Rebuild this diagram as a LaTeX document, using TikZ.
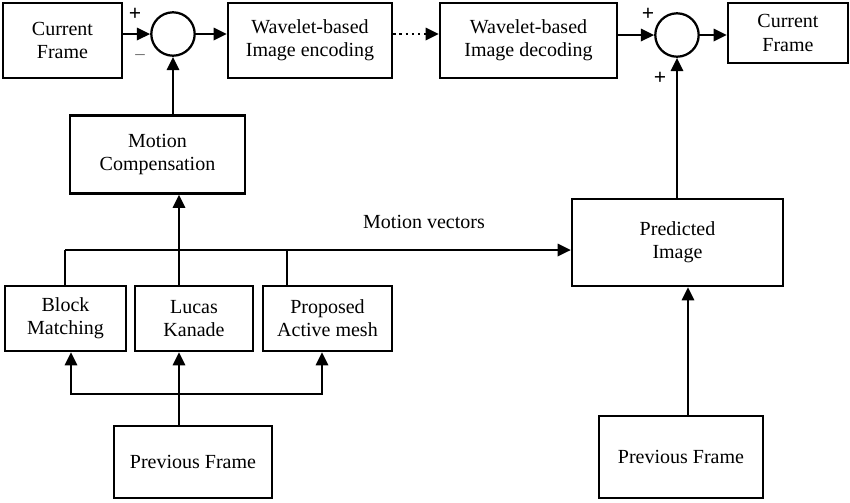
\documentclass[tikz,border=0pt]{standalone}
\usepackage{fontspec}
\setmainfont{Liberation Serif}
\usetikzlibrary{arrows.meta}

\begin{document}
\begin{tikzpicture}[x=0.53pt,y=-0.53pt,
  every node/.style={font=\fontsize{10.6}{12.3}\selectfont},
  box/.style={draw,line width=1.2pt,align=center,inner sep=0pt},
  sumnode/.style={draw,circle,line width=1.2pt,minimum size=23pt,inner sep=0pt},
  conn/.style={line width=1.3pt},
  arr/.style={conn,-{Triangle[length=7pt,width=6.5pt]}},
  sign/.style={inner sep=0pt,font=\fontsize{11.5}{12}\selectfont\bfseries}]
  \useasboundingbox (0,0) rectangle (850,502);
  % top row
  \node[box,minimum width=63.1pt,minimum height=39.8pt] (curL) at (62.5,40.5) {Current\\Frame};
  \node[sumnode] (sumA) at (173,34) {};
  \node[box,minimum width=86.9pt,minimum height=39.8pt] (enc) at (310,40.5) {Wavelet-based\\Image encoding};
  \node[box,minimum width=93.8pt,minimum height=39.8pt] (dec) at (528.5,40.5) {Wavelet-based\\Image decoding};
  \node[sumnode] (sumB) at (677,35) {};
  \node[box,minimum width=63.6pt,minimum height=31.8pt] (curR) at (788,33) {Current\\Frame};
  % motion estimation
  \node[box,minimum width=92.8pt,minimum height=41.3pt] (mc) at (157.5,154.5) {Motion\\Compensation};
  \node[box,minimum width=64.1pt,minimum height=34.5pt] (bm) at (65.5,318.5) {Block\\Matching};
  \node[box,minimum width=62.5pt,minimum height=34.5pt] (lk) at (194,318.5) {Lucas\\Kanade};
  \node[box,minimum width=68.4pt,minimum height=34.5pt] (am) at (327.5,318.5) {Proposed\\Active mesh};
  \node[box,minimum width=83.7pt,minimum height=38.2pt] (pfL) at (193,462) {Previous Frame};
  \node[box,minimum width=111.8pt,minimum height=46.1pt] (pi) at (677.5,242.5) {Predicted\\Image};
  \node[box,minimum width=86.9pt,minimum height=43.5pt] (pfR) at (681,457) {Previous Frame};
  % signs
  \node[sign] (pA) at (135,14) {+};
  \node[sign,font=\fontsize{10}{12}\selectfont,text=black!60] (mA) at (140,57) {–};
  \node[sign] (pB) at (648,14) {+};
  \node[sign] (pC) at (660,78) {+};
  \node (mv) at (424,222) {Motion vectors};
  % taps
  \coordinate (tapB) at (65,250);
  \coordinate (tapL) at (179,250);
  \coordinate (tapA) at (287,250);
  \coordinate (fork) at (71,394);
  \coordinate (forkR) at (322,394);
  % top chain
  \draw[arr] (curL.east |- sumA) -- (sumA.west);
  \draw[arr] (sumA.east) -- (sumA.east -| enc.west);
  \draw[arr,dotted] (enc.east |- sumA) -- (dec.west |- sumA);
  \draw[arr] (dec.east |- sumB) -- (sumB.west);
  \draw[arr] (sumB.east) -- (sumB.east -| curR.west);
  \draw[arr] (sumA |- mc.north) -- (sumA.south);
  \draw[arr] (pi.north -| sumB) -- (sumB.south);
  % motion vectors bus
  \draw[conn] (bm.north -| tapB) -- (tapB);
  \draw[conn] (am.north -| tapA) -- (tapA);
  \draw[arr] (tapB) -- (tapB -| pi.west);
  \draw[arr] (lk.north -| tapL) -- (mc.south -| tapL);
  % previous frame fan-out
  \draw[arr] (pfL.north -| tapL) -- (lk.south -| tapL);
  \draw[arr] (fork -| tapL) -- (fork) -- (bm.south -| fork);
  \draw[arr] (fork -| tapL) -- (forkR) -- (am.south -| forkR);
  \draw[arr] (pfR.north -| 688,0) -- (pi.south -| 688,0);
\end{tikzpicture}
\end{document}
